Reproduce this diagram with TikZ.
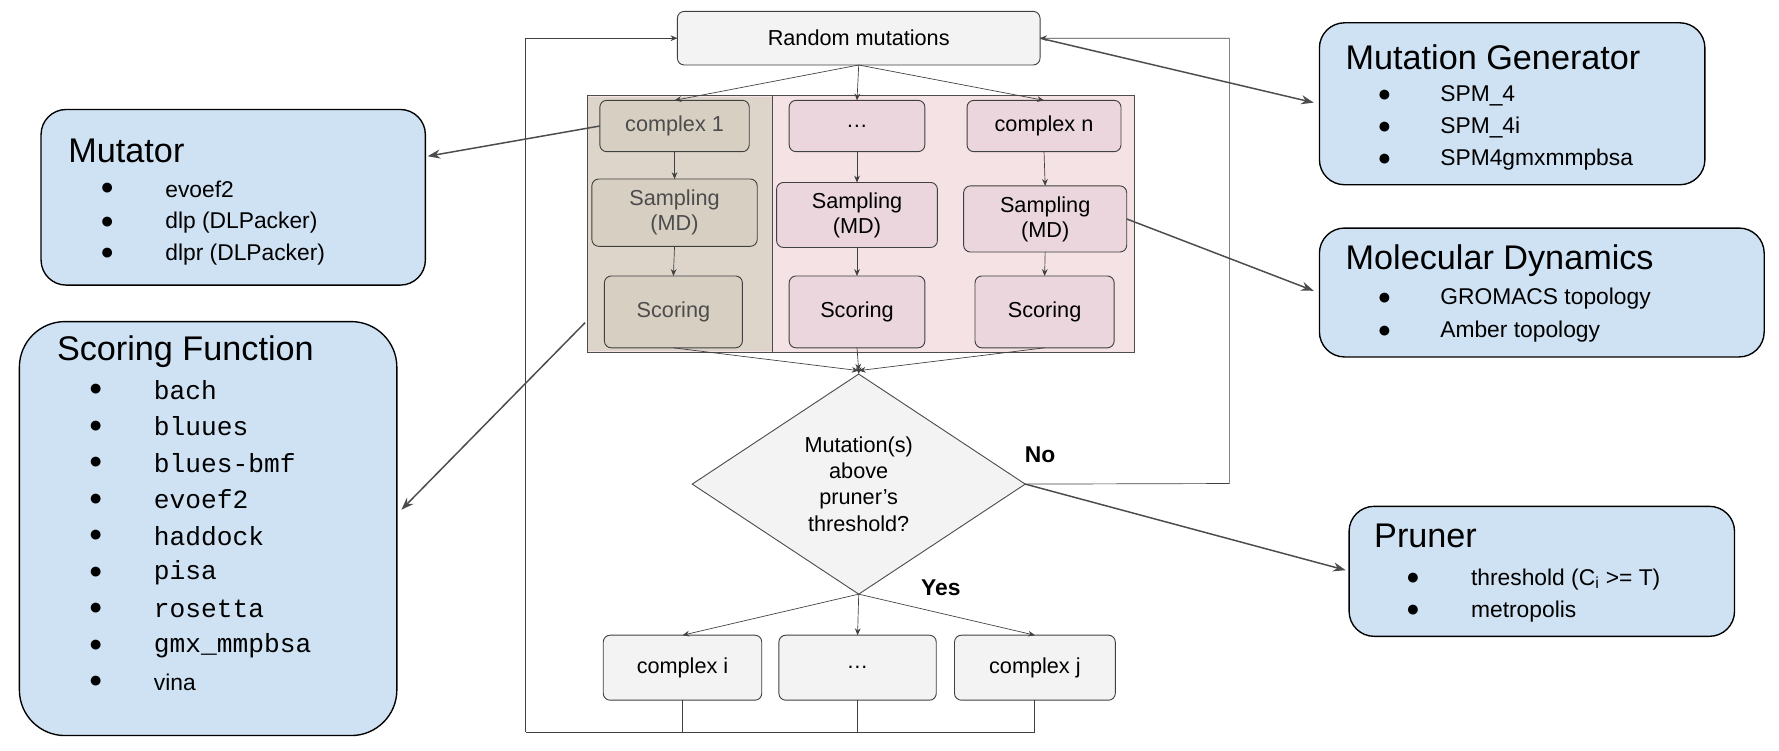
\documentclass[tikz,border=0pt]{standalone}
\usepackage{fontspec}
\setmainfont{Liberation Sans}
\setmonofont{Liberation Mono}
\usetikzlibrary{arrows.meta,shapes.geometric}
\definecolor{blu}{HTML}{CFE2F3}
\definecolor{tan}{HTML}{DDD5CA}
\definecolor{tanb}{HTML}{D8CFC3}
\definecolor{pnk}{HTML}{F4E2E5}
\definecolor{pnkb}{HTML}{EAD6DC}
\definecolor{gr}{HTML}{F3F3F3}
\begin{document}
\begin{tikzpicture}[x=1pt,y=-1pt,
  every node/.style={outer sep=0pt,inner sep=0pt},
  bx/.style={draw=black!75,rounded corners=6pt,line width=0.8pt,align=center,font=\fontsize{19}{22}\selectfont},
  tb/.style={bx,fill=tanb,text=black!70},
  pb/.style={bx,fill=pnkb},
  gb/.style={bx,fill=gr},
  info/.style={draw=black,fill=blu,rounded corners=22pt,line width=1.2pt},
  ttl/.style={anchor=west,font=\fontsize{30}{34}\selectfont},
  itm/.style={anchor=west,font=\fontsize{20}{24}\selectfont},
  arr/.style={-{Stealth[length=6pt,width=5pt]},black!75,line width=0.6pt},
  barr/.style={-{Stealth[length=11pt,width=8pt]},black!70,line width=1.3pt}]
\useasboundingbox (0,0) rectangle (1560,658);
% group
\node[draw=black!70,line width=1.2pt,fill=pnk,minimum width=480,minimum height=225] (grp) at (755,196.5) {};
\fill[tan] (516,85) rectangle (677,308);
\draw[black!70,line width=0.8pt] (677,84) -- (677,309);
\draw[black!70,line width=1.2pt] (515,84) rectangle (995,309);
\node[gb,minimum width=318,minimum height=47] (rm) at (753,33.5) {Random mutations};
\node[tb,minimum width=131,minimum height=45] (c1) at (591.5,110.5) {complex 1};
\node[pb,minimum width=119,minimum height=45] (c2) at (751.5,110.5) {\dots};
\node[pb,minimum width=135,minimum height=45] (c3) at (915.5,110.5) {complex n};
\node[tb,minimum width=145,minimum height=59] (s1) at (591.5,186.5) {Sampling\\(MD)};
\node[pb,minimum width=141,minimum height=57] (s2) at (751.5,188.5) {Sampling\\(MD)};
\node[pb,minimum width=143,minimum height=58] (s3) at (916.5,192) {Sampling\\(MD)};
\node[tb,minimum width=121,minimum height=63] (r1) at (590.5,273.5) {Scoring};
\node[pb,minimum width=119,minimum height=63] (r2) at (751.5,273.5) {Scoring};
\node[pb,minimum width=122,minimum height=63] (r3) at (916,273.5) {Scoring};
\coordinate (m) at (753,325);
\node[diamond,draw=black!70,fill=gr,line width=0.8pt,minimum width=292,minimum height=193,align=center,font=\fontsize{19}{23}\selectfont] (d) at (753,424.5) {Mutation(s)\\above\\pruner’s\\threshold?};
\node[gb,minimum width=139,minimum height=57] (o1) at (598.5,585.5) {complex i};
\node[gb,minimum width=138,minimum height=57] (o2) at (752,585.5) {\dots};
\node[gb,minimum width=141,minimum height=57] (o3) at (907.5,585.5) {complex j};
\node[font=\bfseries\fontsize{20}{24}\selectfont] (no) at (912,399) {No};
\node[font=\bfseries\fontsize{20}{24}\selectfont] (yes) at (825,515) {Yes};
% flow arrows
\draw[arr] (rm.south) -- (c1.north);
\draw[arr] (rm.south) -- (c2.north);
\draw[arr] (rm.south) -- (c3.north);
\foreach \a/\b in {c1/s1,c2/s2,c3/s3,s1/r1,s2/r2,s3/r3} \draw[arr] (\a.south) -- (\b.north);
\draw[arr] (r1.south) -- (m);
\draw[arr] (r2.south) -- (m);
\draw[arr] (r3.south) -- (m);
\draw[arr] (m) -- (d.north);
\draw[arr] (d.south) -- (o1.north);
\draw[arr] (d.south) -- (o2.north);
\draw[arr] (d.south) -- (o3.north);
\coordinate (bl) at (461,642);
\draw[black!75,line width=0.8pt] (o1.south) |- (bl);
\draw[black!75,line width=0.8pt] (o2.south) -- (o2.south |- bl);
\draw[black!75,line width=0.8pt] (o3.south) |- (bl);
\draw[arr] (bl) |- (rm.west);
\coordinate (nr) at (1078,424);
\draw[arr] (d.east) -- (nr) |- (rm.east);
% info boxes
\node[info,minimum width=338,minimum height=142] (mg) at (1326,91) {};
\node[ttl] (mgt) at (1180,50) {Mutation Generator};
\foreach \y/\t [count=\i] in {84/SPM\_4,112/SPM\_4i,140/SPM4gmxmmpbsa}{
  \node[itm] (mgb\i) at (1208,\y) {●}; \node[itm] (mgi\i) at (1263,\y) {\t};}
\node[info,minimum width=390,minimum height=113] (md) at (1352,256.5) {};
\node[ttl] (mdt) at (1180,229) {Molecular Dynamics};
\foreach \y/\t [count=\i] in {262/GROMACS topology,291/Amber topology}{
  \node[itm] (mdb\i) at (1208,\y) {●}; \node[itm] (mdi\i) at (1263,\y) {\t};}
\node[info,minimum width=337,minimum height=154] (mu) at (204.5,173) {};
\node[ttl] (mut) at (60,132) {Mutator};
\foreach \y/\t [count=\i] in {166/evoef2,195/dlp (DLPacker),223/dlpr (DLPacker)}{
  \node[itm] (mub\i) at (88,\y) {●}; \node[itm] (mui\i) at (145,\y) {\t};}
\node[info,rounded corners=40pt,minimum width=331,minimum height=363] (sf) at (182.5,463.5) {};
\node[ttl] (sft) at (50,308) {Scoring Function};
\foreach \y/\t [count=\i] in {342/bach,374/bluues,406/blues-bmf,438/evoef2,470/haddock,502/pisa,534/rosetta,566/gmx\_mmpbsa}{
  \node[itm] (sfb\i) at (78,\y) {●}; \node[itm,font=\ttfamily\fontsize{23}{24}\selectfont] (sfi\i) at (135,\y) {\t};}
\node[itm] (sfb9) at (78,598) {●}; \node[itm] (sfi9) at (135,598) {vina};
\node[info,minimum width=338,minimum height=114] (pr) at (1352,501) {};
\node[ttl] (prt) at (1205,470) {Pruner};
\node[itm] (prb1) at (1233,508) {●}; \node[itm] (pri1) at (1290,508) {threshold (C\textsubscript{i} >= T)};
\node[itm] (prb2) at (1233,536) {●}; \node[itm] (pri2) at (1290,536) {metropolis};
% connectors to info
\draw[barr] (c1.west) -- (375,137);
\coordinate (sc) at (513,283);
\draw[barr] (sc) -- (352,447);
\draw[barr] (rm.east) -- (1152,90);
\draw[barr] (s3.east) -- (1152,255);
\draw[barr] (d.east) -- (1180,500);
\end{tikzpicture}
\end{document}
